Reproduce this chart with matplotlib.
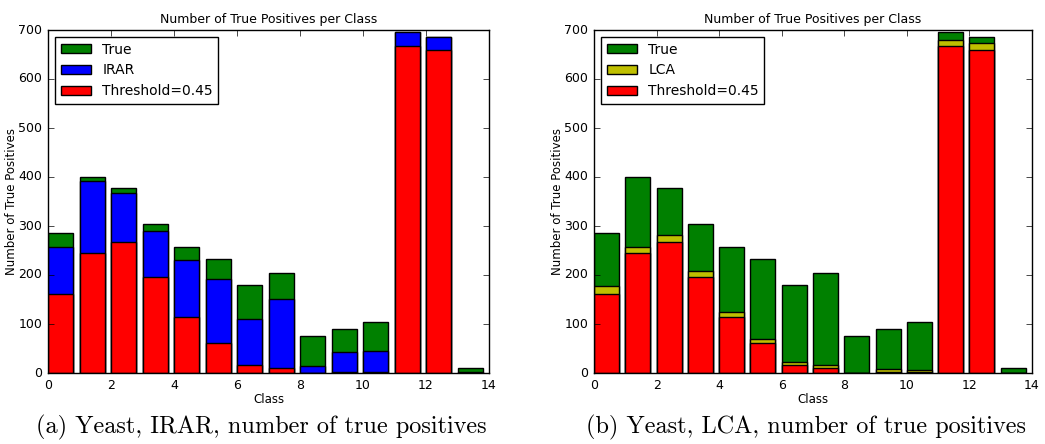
import numpy as np
import matplotlib
matplotlib.use('Agg')
import matplotlib.pyplot as plt

plt.style.use('classic')

classes = np.arange(14)
true_pos = [285, 400, 378, 305, 258, 232, 179, 205, 75, 90, 105, 695, 686, 10]
irar_pos = [257, 392, 367, 290, 230, 192, 111, 151, 15, 43, 44, 695, 686, 2]
lca_pos = [178, 258, 281, 208, 124, 69, 23, 17, 1, 9, 7, 680, 673, 1]
thresh_pos = [162, 245, 267, 196, 115, 62, 17, 10, 1, 3, 3, 668, 660, 1]


def drawPanel(ax, method, values, colour):
    ax.bar(classes, true_pos, 0.8, align='edge', color='g', edgecolor='k', label='True')
    ax.bar(classes, values, 0.8, align='edge', color=colour, edgecolor='k', label=method)
    ax.bar(classes, thresh_pos, 0.8, align='edge', color='r', edgecolor='k', label='Threshold=0.45')
    ax.set_xlim(0, 14)
    ax.set_ylim(0, 700)
    ax.set_title('Number of True Positives per Class', fontsize=9)
    ax.set_xlabel('Class', fontsize=8.5, labelpad=1)
    ax.set_ylabel('Number of True Positives', fontsize=8.5, labelpad=0)
    ax.tick_params(labelsize=9)
    ax.legend(loc='upper left', fontsize=10, handlelength=2.2, borderaxespad=0.5)


fig = plt.figure(figsize=(10.45, 4.44), dpi=100, facecolor='white')
ax1 = fig.add_axes([48 / 1045, 71 / 444, 441 / 1045, 343 / 444])
ax2 = fig.add_axes([594 / 1045, 71 / 444, 438 / 1045, 343 / 444])

drawPanel(ax1, 'IRAR', irar_pos, 'b')
drawPanel(ax2, 'LCA', lca_pos, 'y')

fig.text(261 / 1045, 17 / 444, '(a) Yeast, IRAR, number of true positives',
         ha='center', va='center', fontsize=17.5, family='cmr10')
fig.text(806 / 1045, 17 / 444, '(b) Yeast, LCA, number of true positives',
         ha='center', va='center', fontsize=17.5, family='cmr10')

fig.savefig('out.png', dpi=100, facecolor='white')
